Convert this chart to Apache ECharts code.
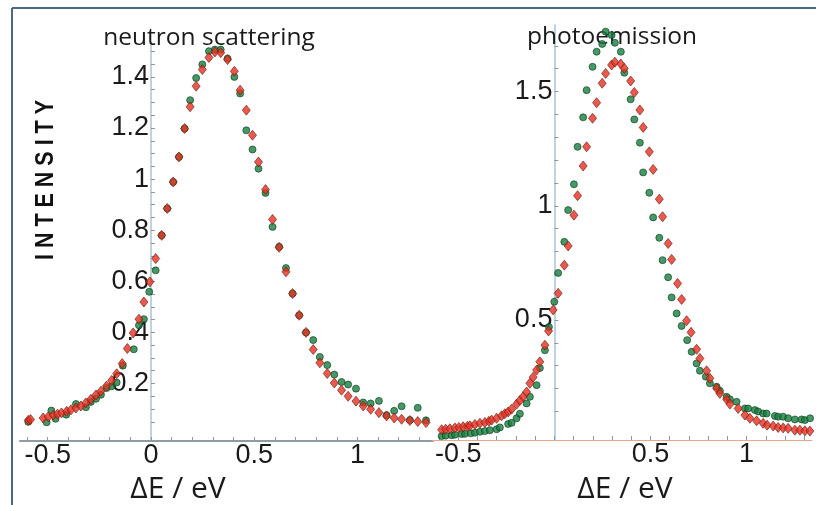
<!DOCTYPE html>
<html>
<head>
<meta charset="utf-8">
<script src="https://cdn.jsdelivr.net/npm/echarts@6/dist/echarts.min.js"></script>
<style>
  html, body { margin: 0; padding: 0; background: #ffffff; }
  #main { width: 816px; height: 505px; }
</style>
</head>
<body>
<div id="main"></div>
<script>
// neutron scattering panel, [dE (eV), intensity]
var neutronGreen = [
  [-0.594,0.050],[-0.505,0.048],[-0.482,0.094],[-0.462,0.062],[-0.410,0.078],[-0.363,0.120],
  [-0.315,0.107],[-0.291,0.128],[-0.266,0.140],[-0.242,0.156],[-0.215,0.182],[-0.190,0.189],
  [-0.166,0.204],[-0.136,0.270],[-0.083,0.334],[-0.058,0.428],[-0.034,0.452],[-0.008,0.559],
  [0.023,0.643],[0.052,0.780],[0.079,0.885],[0.108,0.989],[0.136,1.087],[0.163,1.198],
  [0.190,1.309],[0.219,1.396],[0.249,1.449],[0.281,1.501],[0.310,1.507],[0.338,1.507],
  [0.371,1.472],[0.404,1.400],[0.432,1.335],[0.462,1.191],[0.492,1.116],[0.521,1.041],
  [0.555,0.946],[0.589,0.813],[0.621,0.735],[0.654,0.652],[0.686,0.552],[0.718,0.467],
  [0.751,0.400],[0.786,0.370],[0.818,0.304],[0.854,0.272],[0.888,0.235],[0.923,0.206],
  [0.955,0.196],[0.993,0.180],[1.028,0.126],[1.064,0.122],[1.104,0.132],[1.141,0.076],
  [1.178,0.093],[1.214,0.111],[1.254,0.057],[1.292,0.105],[1.332,0.056]
];
var neutronRed = [
  [-0.594,0.056],[-0.583,0.059],[-0.522,0.065],[-0.497,0.070],[-0.473,0.076],[-0.452,0.080],
  [-0.433,0.085],[-0.408,0.091],[-0.387,0.097],[-0.363,0.104],[-0.339,0.112],[-0.315,0.124],
  [-0.291,0.138],[-0.266,0.155],[-0.242,0.170],[-0.215,0.190],[-0.190,0.212],[-0.166,0.238],
  [-0.139,0.278],[-0.114,0.337],[-0.086,0.398],[-0.058,0.452],[-0.034,0.519],[-0.005,0.598],
  [0.023,0.689],[0.052,0.780],[0.079,0.885],[0.108,0.989],[0.136,1.087],[0.163,1.198],
  [0.190,1.283],[0.219,1.364],[0.249,1.429],[0.281,1.476],[0.310,1.498],[0.338,1.495],
  [0.371,1.468],[0.404,1.422],[0.432,1.348],[0.462,1.270],[0.492,1.172],[0.521,1.067],
  [0.555,0.959],[0.589,0.842],[0.621,0.733],[0.654,0.637],[0.686,0.552],[0.718,0.467],
  [0.751,0.400],[0.786,0.333],[0.818,0.281],[0.854,0.239],[0.888,0.202],[0.923,0.174],
  [0.955,0.150],[0.993,0.131],[1.028,0.112],[1.064,0.099],[1.104,0.086],[1.141,0.073],
  [1.178,0.065],[1.214,0.060],[1.254,0.055],[1.292,0.051],[1.332,0.047]
];

// photoemission panel, [dE (eV), intensity]
var photoGreen = [
  [-0.586,-0.008],[-0.565,-0.006],[-0.534,-0.004],[-0.517,-0.002],[-0.482,0.001],[-0.465,0.002],
  [-0.434,0.004],[-0.413,0.007],[-0.387,0.011],[-0.361,0.014],[-0.335,0.018],[-0.300,0.022],
  [-0.283,0.030],[-0.240,0.045],[-0.222,0.050],[-0.196,0.070],[-0.179,0.090],[-0.144,0.135],
  [-0.127,0.164],[-0.092,0.215],[-0.075,0.290],[-0.049,0.368],[-0.028,0.470],[0.000,0.580],
  [0.020,0.706],[0.052,0.842],[0.072,0.981],[0.102,1.094],[0.121,1.258],[0.150,1.387],
  [0.168,1.506],[0.199,1.608],[0.220,1.674],[0.249,1.708],[0.267,1.762],[0.298,1.747],
  [0.315,1.713],[0.346,1.674],[0.364,1.582],[0.397,1.466],[0.416,1.378],[0.445,1.276],
  [0.462,1.146],[0.494,1.057],[0.514,0.949],[0.546,0.860],[0.563,0.762],[0.592,0.687],
  [0.610,0.599],[0.636,0.529],[0.662,0.474],[0.691,0.412],[0.714,0.361],[0.740,0.310],
  [0.757,0.278],[0.788,0.252],[0.809,0.223],[0.844,0.208],[0.861,0.190],[0.896,0.164],
  [0.913,0.153],[0.948,0.142],[0.991,0.113],[1.008,0.113],[1.043,0.106],[1.060,0.100],
  [1.086,0.091],[1.104,0.091],[1.147,0.080],[1.164,0.077],[1.190,0.077],[1.216,0.070],
  [1.251,0.065],[1.286,0.065],[1.303,0.062],[1.330,0.070]
];
var photoRed = [
  [-0.586,0.020],[-0.565,0.022],[-0.543,0.024],[-0.517,0.028],[-0.496,0.030],[-0.474,0.033],
  [-0.452,0.035],[-0.439,0.037],[-0.413,0.043],[-0.387,0.048],[-0.361,0.052],[-0.340,0.057],
  [-0.326,0.062],[-0.300,0.070],[-0.274,0.081],[-0.257,0.090],[-0.240,0.098],[-0.222,0.110],
  [-0.196,0.132],[-0.179,0.148],[-0.162,0.164],[-0.144,0.185],[-0.127,0.223],[-0.110,0.250],
  [-0.092,0.281],[-0.075,0.317],[-0.049,0.390],[-0.030,0.452],[-0.006,0.544],[0.020,0.617],
  [0.052,0.740],[0.072,0.824],[0.102,0.959],[0.121,1.044],[0.150,1.174],[0.168,1.258],
  [0.199,1.383],[0.220,1.451],[0.249,1.536],[0.267,1.579],[0.298,1.616],[0.315,1.628],
  [0.346,1.620],[0.364,1.601],[0.397,1.546],[0.416,1.496],[0.445,1.419],[0.462,1.343],
  [0.494,1.236],[0.514,1.159],[0.546,1.029],[0.563,0.952],[0.592,0.835],[0.610,0.765],
  [0.641,0.660],[0.662,0.590],[0.688,0.497],[0.711,0.446],[0.740,0.372],[0.757,0.332],
  [0.792,0.278],[0.809,0.245],[0.844,0.201],[0.861,0.179],[0.896,0.153],[0.913,0.132],
  [0.956,0.113],[0.991,0.084],[1.017,0.070],[1.052,0.059],[1.086,0.048],[1.107,0.040],
  [1.138,0.036],[1.164,0.030],[1.190,0.028],[1.216,0.026],[1.251,0.018],[1.277,0.018],
  [1.303,0.015],[1.329,0.014]
];

// tick labels
var neutronXLabels = [-0.5, 0, 0.5, 1];
var neutronYLabels = [0.2, 0.4, 0.6, 0.8, 1, 1.2, 1.4];
var photoXLabels = [-0.5, 0.5, 1];
var photoYLabels = [0.5, 1, 1.5];

function steps(from, to, step) {
  var out = [];
  for (var v = from; v <= to + 1e-9; v += step) out.push(Math.round(v * 1000) / 1000);
  return out;
}
function fmt(v) { return String(Math.round(v * 100) / 100); }

var labelFont = { fontFamily: 'Liberation Sans', fontSize: 27, color: '#1a1a1a' };
var yAxisColor = '#a9c3d6';

var chartDom = document.getElementById('main');
var myChart = echarts.init(chartDom);

function xAxisFor(gridIndex, min, max, labels, lineColor, lineWidth) {
  return {
    type: 'value', gridIndex: gridIndex, min: min, max: max,
    splitLine: { show: false },
    axisLine: { onZero: false, lineStyle: { color: lineColor, width: lineWidth } },
    axisTick: { inside: true, length: 4, customValues: steps(-0.6, 1.3, 0.1),
      lineStyle: { color: '#8a9aa4', width: 1 } },
    axisLabel: Object.assign({ margin: 1, customValues: labels, formatter: fmt }, labelFont)
  };
}
// the y axis sits at dE = 0, so it is shifted into the grid with a negative offset
function yAxisFor(gridIndex, min, max, labels, ticks, offset) {
  return {
    type: 'value', gridIndex: gridIndex, min: min, max: max,
    position: 'left', offset: offset,
    splitLine: { show: false },
    axisLine: { onZero: false, lineStyle: { color: yAxisColor, width: 1.5 } },
    axisTick: { inside: true, length: 4, customValues: ticks,
      lineStyle: { color: '#8a9aa4', width: 1 } },
    axisLabel: Object.assign({ margin: 2, customValues: labels, formatter: fmt }, labelFont)
  };
}

var greenStyle = { color: '#178040', borderColor: '#0c3a1c', borderWidth: 0.8 };
var redStyle = { color: '#e6301f', borderColor: '#6e1a12', borderWidth: 0.8 };

var option = {
  backgroundColor: '#ffffff',
  animation: false,
  grid: [
    { left: 20, top: 45, width: 413, height: 396, outerBoundsMode: 'none' },
    { left: 432, top: 25, width: 380, height: 415, outerBoundsMode: 'none' }
  ],
  xAxis: [
    xAxisFor(0, -0.634, 1.366, neutronXLabels, '#8e9ca4', 2),
    xAxisFor(1, -0.636, 1.340, photoXLabels, '#e8a88c', 1)
  ],
  yAxis: [
    yAxisFor(0, -0.025, 1.525, neutronYLabels, steps(0.05, 1.5, 0.05), -131),
    yAxisFor(1, -0.025, 1.791, photoYLabels, steps(0.1, 1.7, 0.1), -122.4)
  ],
  graphic: [
    { type: 'line', z: 0, shape: { x1: 12, y1: 8, x2: 816, y2: 8 },
      style: { stroke: '#4b6b82', lineWidth: 2 } },
    { type: 'line', z: 0, shape: { x1: 12, y1: 8, x2: 12, y2: 505 },
      style: { stroke: '#4b6b82', lineWidth: 2 } },
    { type: 'text', z: 1, x: 209, y: 38,
      style: { text: 'neutron scattering', font: '24.5px "Open Sans"', fill: '#1a1a1a',
        align: 'center', verticalAlign: 'middle' } },
    { type: 'text', z: 1, x: 612, y: 37,
      style: { text: 'photoemission', font: '24.5px "Open Sans"', fill: '#1a1a1a',
        align: 'center', verticalAlign: 'middle' } },
    { type: 'text', z: 1, x: 46, y: 180, rotation: Math.PI / 2, scaleX: 0.86,
      style: { text: 'I N T E N S I T Y', font: 'bold 25px "Liberation Sans"',
        fill: '#111111', align: 'center', verticalAlign: 'middle' } },
    { type: 'text', z: 1, x: 178, y: 489,
      style: { text: '\u0394E / eV', font: '30px "Open Sans"', fill: '#1a1a1a',
        align: 'center', verticalAlign: 'middle' } },
    { type: 'text', z: 1, x: 625, y: 489,
      style: { text: '\u0394E / eV', font: '30px "Open Sans"', fill: '#1a1a1a',
        align: 'center', verticalAlign: 'middle' } }
  ],
  series: [
    { name: 'neutron green', type: 'scatter', xAxisIndex: 0, yAxisIndex: 0,
      symbol: 'circle', symbolSize: 7, itemStyle: greenStyle, data: neutronGreen },
    { name: 'neutron red', type: 'scatter', xAxisIndex: 0, yAxisIndex: 0,
      symbol: 'diamond', symbolSize: [8, 10], itemStyle: redStyle, data: neutronRed },
    { name: 'photo green', type: 'scatter', xAxisIndex: 1, yAxisIndex: 1,
      symbol: 'circle', symbolSize: 7, itemStyle: greenStyle, data: photoGreen },
    { name: 'photo red', type: 'scatter', xAxisIndex: 1, yAxisIndex: 1,
      symbol: 'diamond', symbolSize: [8, 10], itemStyle: redStyle, data: photoRed }
  ]
};
myChart.setOption(option);
</script>
</body>
</html>
